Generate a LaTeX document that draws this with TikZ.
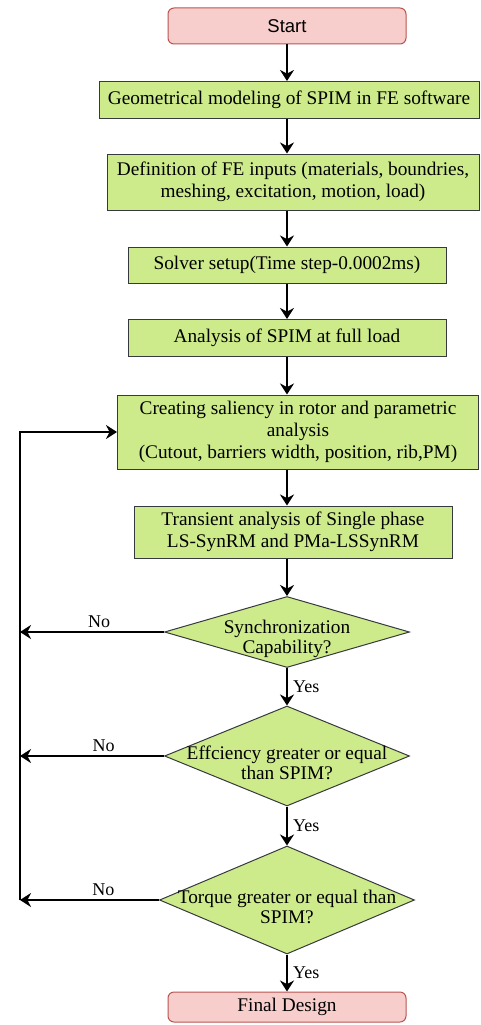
\documentclass[tikz,border=0pt]{standalone}
\usepackage{fontspec}
\setmainfont{Liberation Serif}
\newfontfamily\startfont{Liberation Sans}
\usetikzlibrary{shapes, arrows.meta, positioning}
\definecolor{termpink}{RGB}{248,206,204}
\definecolor{termedge}{RGB}{184,84,80}
\definecolor{stepgreen}{RGB}{205,235,139}
\definecolor{stepedge}{RGB}{54,57,61}

\begin{document}
\begin{tikzpicture}[x=1pt, y=-1pt,
  term/.style={draw=termedge, fill=termpink, rounded corners=6pt, line width=1pt, inner sep=0pt, font=\fontsize{19.3}{22}\selectfont},
  stepbox/.style={draw=stepedge, fill=stepgreen, line width=1pt, align=center, inner sep=0pt, font=\fontsize{19.3}{22}\selectfont},
  decision/.style={diamond, draw=stepedge, fill=stepgreen, line width=1pt, inner sep=0pt},
  qtext/.style={align=center, inner sep=0pt, yshift=-7pt, font=\fontsize{19.3}{20}\selectfont},
  flow/.style={-{Stealth[length=11pt, width=14pt]}, line width=1.6pt},
  lbl/.style={font=\fontsize{18}{20}\selectfont}
]
  \useasboundingbox (0,0) rectangle (481,1025);

  \node[term, minimum width=238pt, minimum height=36pt, font=\startfont\fontsize{18.5}{22}\selectfont] (start) at (287,26) {Start};
  \node[stepbox, minimum width=380pt, minimum height=37pt] (geom) at (289,100) {Geometrical modeling of SPIM in FE software};
  \node[stepbox, minimum width=372pt, minimum height=56pt] (inputs) at (293,182) {Definition of FE inputs (materials, boundries,\\ meshing, excitation, motion, load)};
  \node[stepbox, minimum width=318pt, minimum height=36pt] (solver) at (287,265) {Solver setup(Time step-0.0002ms)};
  \node[stepbox, minimum width=318pt, minimum height=37pt] (fullload) at (287,338) {Analysis of SPIM at full load};
  \node[stepbox, minimum width=361pt, minimum height=74pt] (saliency) at (298,432) {Creating saliency in rotor and parametric\\ analysis\\ (Cutout, barriers width, position, rib,PM)};
  \node[stepbox, minimum width=318pt, minimum height=52pt] (transient) at (293,532) {Transient analysis of Single phase\\ LS-SynRM and PMa-LSSynRM};

  \node[decision, minimum width=245pt, minimum height=71pt, label={[qtext]center:Synchronization\\ Capability?}] (sync) at (287,632) {};
  \node[decision, minimum width=245pt, minimum height=100pt, label={[qtext]center:Effciency greater or equal\\ than SPIM?}] (eff) at (287,756) {};
  \node[decision, minimum width=255pt, minimum height=108pt, label={[qtext]center:Torque greater or equal than\\ SPIM?}] (torque) at (287,900) {};

  \node[term, minimum width=238pt, minimum height=30pt] (final) at (287,1007) {Final Design};

  \coordinate (loop) at (20,432);

  \draw[flow] (start) -- (geom.north -| start);
  \draw[flow] (geom.south -| start) -- (inputs.north -| start);
  \draw[flow] (inputs.south -| start) -- (solver);
  \draw[flow] (solver) -- (fullload);
  \draw[flow] (fullload) -- (saliency.north -| fullload);
  \draw[flow] (saliency.south -| fullload) -- (transient.north -| fullload);
  \draw[flow] (transient.south -| fullload) -- (sync);
  \draw[flow] (sync) -- node[right, lbl, xshift=2pt]{Yes} (eff);
  \draw[flow] (eff) -- node[right, lbl, xshift=2pt]{Yes} (torque);
  \draw[flow] (torque) -- node[right, lbl, xshift=2pt]{Yes} (final);

  \draw[flow] (sync.west) -- node[above, lbl, pos=0.45]{No} (sync.west -| loop);
  \draw[flow] (eff.west) -- node[above, lbl, pos=0.42]{No} (eff.west -| loop);
  \draw[flow] (torque.west) -- node[above, lbl, pos=0.4]{No} (torque.west -| loop);
  \draw[flow] (torque.west -| loop) -- (loop) -- (saliency.west);
\end{tikzpicture}
\end{document}
